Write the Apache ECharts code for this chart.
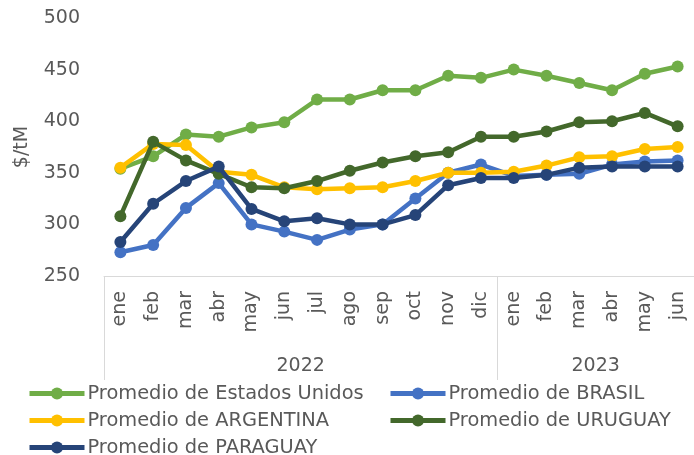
<!DOCTYPE html>
<html>
<head>
<meta charset="utf-8">
<script src="https://cdn.jsdelivr.net/npm/echarts@6/dist/echarts.min.js"></script>
<style>
html,body{margin:0;padding:0;background:#fff;}
#chart{width:694px;height:455px;}
</style>
</head>
<body>
<div id="chart"></div>
<script>
const months = ['ene','feb','mar','abr','may','jun','jul','ago','sep','oct','nov','dic','ene','feb','mar','abr','may','jun'];
const years = ['2022','2023'];
const seriesNames = ['Promedio de Estados Unidos','Promedio de BRASIL','Promedio de ARGENTINA','Promedio de URUGUAY','Promedio de PARAGUAY'];
const estadosUnidos = [354, 366, 387, 385, 394, 399, 421, 421, 430, 430, 444, 442, 450, 444, 437, 430, 446, 453];
const brasil        = [273, 280, 316, 340, 300, 293, 285, 295, 300, 325, 350, 358, 347, 348, 349, 358, 361, 362];
const argentina     = [355, 378, 377, 351, 348, 336, 334, 335, 336, 342, 350, 350, 351, 357, 365, 366, 373, 375];
const uruguay       = [308, 380, 362, 349, 336, 335, 342, 352, 360, 366, 370, 385, 385, 390, 399, 400, 408, 395];
const paraguay      = [283, 320, 342, 356, 315, 303, 306, 300, 300, 309, 338, 345, 345, 348, 355, 356, 356, 356];
const yTicks = [250, 300, 350, 400, 450, 500];

const colors = ['#70AD47','#4472C4','#FFC000','#43682B','#264478'];
const dataSets = [estadosUnidos, brasil, argentina, uruguay, paraguay];
const FONT = 'DejaVu Sans';
const TXT = '#595959';

const chart = echarts.init(document.getElementById('chart'), null, {renderer:'canvas'});
const legendCommon = {
  orient: 'vertical', itemGap: 8, itemWidth: 55, itemHeight: 15, padding: 0,
  height: 80,
  lineStyle: {width: 5},
  textStyle: {color: TXT, fontSize: 19.4, fontFamily: FONT, padding: [0,0,0,-2]}
};
chart.setOption({
  animation: false,
  backgroundColor: '#ffffff',
  textStyle: {fontFamily: FONT},
  grid: {left: 104, top: 18, width: 594, height: 258, containLabel: false},
  xAxis: [
    {
      type: 'category',
      data: months,
      boundaryGap: true,
      axisLine: {show: true, lineStyle: {color: '#d9d9d9', width: 1}},
      axisTick: {show: false},
      axisLabel: {rotate: 90, margin: 15, color: TXT, fontSize: 19, fontFamily: FONT, interval: 0},
      splitLine: {show: false}
    },
    {
      type: 'value',
      position: 'bottom',
      min: 0, max: 18,
      axisLine: {show: false},
      axisTick: {show: true, customValues: [0, 12, 18], length: 104, inside: false, lineStyle: {color: '#d9d9d9', width: 1}},
      axisLabel: {show: true, customValues: [6, 15], margin: 81, color: TXT, fontSize: 19, fontFamily: FONT,
        formatter: function (v) { return v === 6 ? years[0] : (v === 15 ? years[1] : ''); }},
      splitLine: {show: false}
    }
  ],
  yAxis: {
    type: 'value',
    min: yTicks[0], max: yTicks[yTicks.length - 1], interval: 50,
    name: '$/tM', nameLocation: 'middle', nameRotate: 90, nameGap: 72,
    nameTextStyle: {color: TXT, fontSize: 19, fontFamily: FONT},
    axisLine: {show: false},
    axisTick: {show: false},
    splitLine: {show: false},
    axisLabel: {color: TXT, fontSize: 19, fontFamily: FONT, margin: 24}
  },
  legend: [
    Object.assign({}, legendCommon, {left: 27, top: 384, data: [seriesNames[0], seriesNames[2], seriesNames[4]]}),
    Object.assign({}, legendCommon, {left: 388, top: 384, data: [seriesNames[1], seriesNames[3]]})
  ],
  series: seriesNames.map(function (n, i) {
    return {
      name: n,
      type: 'line',
      xAxisIndex: 0,
      yAxisIndex: 0,
      data: dataSets[i],
      symbol: 'circle',
      symbolSize: 12,
      lineStyle: {color: colors[i], width: 4.5},
      itemStyle: {color: colors[i]},
      emphasis: {disabled: true},
      z: 2 + i
    };
  })
});
</script>
</body>
</html>
